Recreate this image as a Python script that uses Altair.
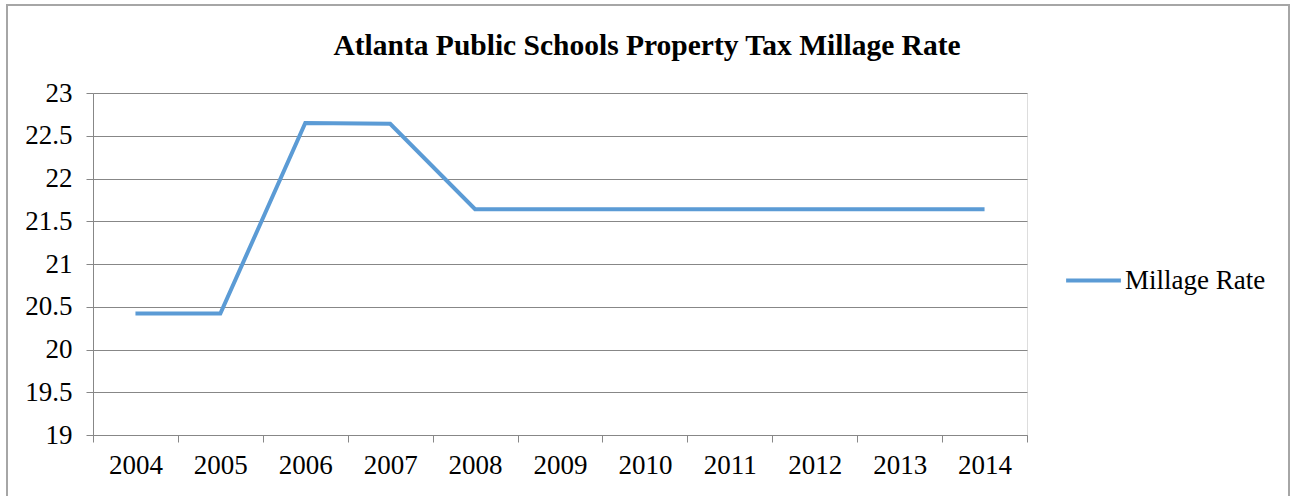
import altair as alt
import pandas as pd

years = ["2004", "2005", "2006", "2007", "2008", "2009", "2010", "2011", "2012", "2013", "2014"]
rates = [20.42, 20.42, 22.65, 22.64, 21.64, 21.64, 21.64, 21.64, 21.64, 21.64, 21.64]
series = ["Millage Rate"] * len(years)
y_ticks = [19, 19.5, 20, 20.5, 21, 21.5, 22, 22.5, 23]
title_text = ["Atlanta Public Schools Property Tax Millage Rate"]

df = pd.DataFrame({"year": years, "rate": rates, "series": series})
tdf = pd.DataFrame({"t": title_text})

FONT = "Liberation Serif, Times New Roman, serif"
GRID = "#878787"
W, H = 934, 342
LFS = 27

line = alt.Chart(df).mark_line(strokeWidth=4, strokeCap="butt").encode(
    x=alt.X(
        "year:O",
        bandPosition=0.5,
        scale=alt.Scale(type="band", paddingInner=0, paddingOuter=0),
        axis=alt.Axis(
            title=None, labelAngle=0, tickBand="extent", ticks=True, tickSize=7,
            tickColor=GRID, domainColor=GRID, labelFont=FONT, labelFontSize=LFS,
            labelColor="black", labelPadding=10, grid=False,
        ),
    ),
    y=alt.Y(
        "rate:Q",
        scale=alt.Scale(domain=[19, 23], nice=False, zero=False),
        axis=alt.Axis(
            title=None, values=y_ticks, format="~g", tickSize=7, tickColor=GRID,
            domainColor=GRID, gridColor=GRID, labelFont=FONT, labelFontSize=LFS,
            labelColor="black", labelPadding=14,
        ),
    ),
    color=alt.Color(
        "series:N",
        scale=alt.Scale(range=["#5B9BD5"]),
        legend=alt.Legend(
            title=None, orient="none", legendX=971, legendY=158,
            symbolType="stroke", symbolSize=3000, symbolStrokeWidth=4,
            labelFont=FONT, labelFontSize=LFS, labelColor="black", labelOffset=2,
        ),
    ),
)

frame = alt.Chart(df).mark_rect(
    fill=None, stroke="#a6a6a6", strokeWidth=2, clip=False
).encode(
    x=alt.value(-86), x2=alt.value(1196), y=alt.value(-88), y2=alt.value(420)
)

title = alt.Chart(tdf).mark_text(
    font=FONT, fontSize=29.5, fontWeight="bold", color="black",
    align="center", baseline="middle",
).encode(text="t:N", x=alt.value(554), y=alt.value(-47))

chart = alt.layer(frame, line, title).properties(
    width=W,
    height=H,
    autosize=alt.AutoSizeParams(type="none"),
    padding={"left": 93, "top": 93, "right": 265, "bottom": 61},
).configure_view(stroke=None).configure(background="white")

chart.save("out.html", embed_options={"renderer": "svg", "actions": False})
